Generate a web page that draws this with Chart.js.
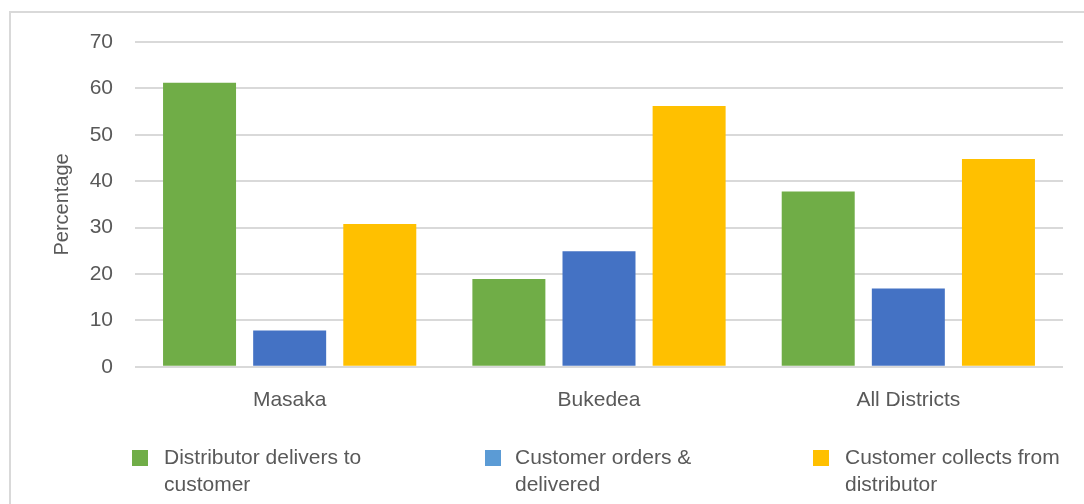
<!DOCTYPE html>
<html>
<head>
<meta charset="utf-8">
<script src="https://cdn.jsdelivr.net/npm/chart.js@4"></script>
<style>
  body { margin: 0; background: #fff; font-family: "Liberation Sans", Arial, sans-serif; }
  #frame { position: absolute; left: 9px; top: 11px; width: 1100px; height: 520px; border: 2px solid #d9d9d9; box-sizing: border-box; }
  #wrap { position: absolute; left: 0; top: 0; width: 1084px; height: 448px; }
  .leg { position: absolute; top: 443px; color: #595959; font-size: 21px; line-height: 27px; }
  .leg i { position: absolute; left: 0; top: 7px; width: 16px; height: 16px; }
  .leg span { position: absolute; top: 0; white-space: nowrap; }
</style>
</head>
<body>
<div id="frame"></div>
<div id="wrap"><canvas id="chart" width="1084" height="448"></canvas></div>
<div id="legend"></div>
<script>
// data
const categories = ['Masaka', 'Bukedea', 'All Districts'];
const seriesNames = [['Distributor delivers to', 'customer'], ['Customer orders &', 'delivered'], ['Customer collects from', 'distributor']];
const delivers = [61.2, 18.9, 37.8];
const orders = [7.8, 24.9, 16.9];
const collects = [30.8, 56.2, 44.8];
const barColors = ['#70AD47', '#4472C4', '#FFC000'];
const legendColors = ['#70AD47', '#5B9BD5', '#FFC000'];

const textColor = '#595959';
const fontFamily = '"Liberation Sans", Arial, sans-serif';

// legend as html so the two-line labels wrap like the original
const legendX = [132, 485, 813];
const legendBox = document.getElementById('legend');
seriesNames.forEach((lines, i) => {
  const d = document.createElement('div');
  d.className = 'leg';
  d.style.left = legendX[i] + 'px';
  d.innerHTML = '<i style="background:' + legendColors[i] + '"></i><span style="left:' + (i === 1 ? 30 : 32) + 'px">' + lines.join('<br>') + '</span>';
  legendBox.appendChild(d);
});

const ctx = document.getElementById('chart').getContext('2d');
new Chart(ctx, {
  type: 'bar',
  data: {
    labels: categories,
    datasets: [
      { label: seriesNames[0].join(' '), data: delivers, backgroundColor: barColors[0] },
      { label: seriesNames[1].join(' '), data: orders, backgroundColor: barColors[1] },
      { label: seriesNames[2].join(' '), data: collects, backgroundColor: barColors[2] }
    ]
  },
  options: {
    responsive: false,
    animation: false,
    categoryPercentage: 0.874,
    barPercentage: 0.81,
    layout: { padding: { left: 50, right: 21, top: 42, bottom: 22 } },
    plugins: { legend: { display: false }, tooltip: { enabled: false } },
    scales: {
      x: {
        grid: { display: false },
        border: { display: false },
        ticks: { color: textColor, padding: 13, font: { family: fontFamily, size: 21 } }
      },
      y: {
        min: 0,
        max: 70,
        ticks: { stepSize: 10, color: textColor, padding: 22, font: { family: fontFamily, size: 21 } },
        grid: { color: '#d9d9d9', lineWidth: 2, drawTicks: false },
        border: { display: false },
        title: { display: true, text: 'Percentage', color: textColor, padding: 0, font: { family: fontFamily, size: 20 } },
        afterFit: (scale) => { scale.width = 85; }
      }
    }
  }
});
</script>
</body>
</html>
